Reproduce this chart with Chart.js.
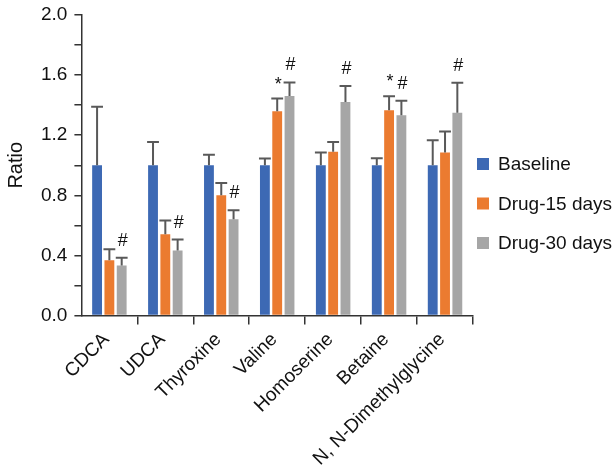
<!DOCTYPE html>
<html>
<head>
<meta charset="utf-8">
<script src="https://cdn.jsdelivr.net/npm/chart.js@4"></script>
<style>
  html, body { margin: 0; padding: 0; background: #fff; }
  #wrap { width: 616px; height: 475px; }
</style>
</head>
<body>
<div id="wrap"><canvas id="ratioChart"></canvas></div>
<script>
// data
const categories = ['CDCA', 'UDCA', 'Thyroxine', 'Valine', 'Homoserine', 'Betaine', 'N, N-Dimethylglycine'];
const seriesNames = ['Baseline', 'Drug-15 days', 'Drug-30 days'];
const baseline = [1.0, 1.0, 1.0, 1.0, 1.0, 1.0, 1.0];
const drug15 = [0.367, 0.54, 0.80, 1.36, 1.09, 1.367, 1.085];
const drug30 = [0.333, 0.433, 0.64, 1.462, 1.422, 1.333, 1.35];
// upper end of the error bars
const baselineErr = [1.39, 1.155, 1.07, 1.045, 1.085, 1.047, 1.167];
const drug15Err = [0.44, 0.633, 0.882, 1.444, 1.155, 1.46, 1.224];
const drug30Err = [0.385, 0.505, 0.70, 1.551, 1.527, 1.429, 1.549];
// significance marks
const drug15Marks = ['', '', '', '*', '', '*', ''];
const drug30Marks = ['#', '#', '#', '#', '#', '#', '#'];
const yTicks = [0, 0.4, 0.8, 1.2, 1.6, 2.0];

const colors = ['#3d69b4', '#eb7b30', '#a6a6a6'];
const fontFam = '"Liberation Sans", Arial, sans-serif';

// error bars + marks
const errorBars = {
    id: 'errorBars',
    afterDatasetsDraw(chart) {
        const ctx = chart.ctx;
        const y = chart.scales.y;
        ctx.save();
        chart.data.datasets.forEach((ds, i) => {
            const meta = chart.getDatasetMeta(i);
            meta.data.forEach((bar, j) => {
                const top = y.getPixelForValue(ds.errTop[j]);
                const half = bar.width / 2 + 1;
                ctx.strokeStyle = '#595959';
                ctx.lineWidth = 2;
                ctx.beginPath();
                ctx.moveTo(bar.x, bar.y);
                ctx.lineTo(bar.x, top);
                ctx.moveTo(bar.x - half, top);
                ctx.lineTo(bar.x + half, top);
                ctx.stroke();
                const mark = ds.marks ? ds.marks[j] : '';
                if (mark) {
                    ctx.fillStyle = '#111';
                    ctx.font = '18px ' + fontFam;
                    ctx.textAlign = 'center';
                    ctx.textBaseline = 'middle';
                    ctx.fillText(mark, bar.x + 1, top - (mark === '*' ? 14 : 17));
                }
            });
        });
        ctx.restore();
    }
};

// legend at the right
const sideLegend = {
    id: 'sideLegend',
    afterDraw(chart) {
        const ctx = chart.ctx;
        const x0 = chart.chartArea.right + 4;
        ctx.save();
        ctx.font = '19px ' + fontFam;
        ctx.textBaseline = 'middle';
        ctx.textAlign = 'left';
        chart.data.datasets.forEach((ds, i) => {
            const yc = 164 + i * 39.5;
            ctx.fillStyle = ds.backgroundColor;
            ctx.fillRect(x0, yc - 6, 12, 12);
            ctx.fillStyle = '#111';
            ctx.fillText(ds.label, x0 + 21, yc + 1);
        });
        ctx.restore();
    }
};

const ctx = document.getElementById('ratioChart').getContext('2d');
new Chart(ctx, {
    type: 'bar',
    data: {
        labels: categories,
        datasets: [
            { label: seriesNames[0], data: baseline, errTop: baselineErr, backgroundColor: colors[0] },
            { label: seriesNames[1], data: drug15, errTop: drug15Err, marks: drug15Marks, backgroundColor: colors[1] },
            { label: seriesNames[2], data: drug30, errTop: drug30Err, marks: drug30Marks, backgroundColor: colors[2] }
        ]
    },
    options: {
        responsive: true,
        maintainAspectRatio: false,
        animation: false,
        datasets: { bar: { categoryPercentage: 0.66, barPercentage: 0.8 } },
        layout: { padding: { top: 0, right: 143, left: 4, bottom: 1 } },
        plugins: {
            legend: { display: false },
            tooltip: { enabled: false }
        },
        scales: {
            x: {
                grid: {
                    drawOnChartArea: false,
                    tickLength: 9,
                    color: (c) => c.index === 0 ? 'rgba(0,0,0,0)' : '#333',
                    lineWidth: 1.5
                },
                border: { color: '#333', width: 1.5 },
                ticks: {
                    color: '#111',
                    font: { family: fontFam, size: 19 },
                    maxRotation: 45,
                    minRotation: 45,
                    padding: 4,
                    labelOffset: -3
                }
            },
            y: {
                min: 0,
                max: 2.0,
                grid: { drawOnChartArea: false, tickLength: 7, color: '#333', lineWidth: 1.5 },
                border: { color: '#333', width: 1.5 },
                ticks: {
                    stepSize: 0.2,
                    color: '#111',
                    font: { family: fontFam, size: 19, lineHeight: 0.85 },
                    padding: 7,
                    callback: function(v) {
                        const hit = yTicks.find(t => Math.abs(t - v) < 1e-6);
                        return hit === undefined ? '' : hit.toFixed(1);
                    }
                },
                title: {
                    display: true,
                    text: 'Ratio',
                    color: '#111',
                    font: { family: fontFam, size: 20 },
                    padding: { top: 0, bottom: 6 }
                }
            }
        }
    },
    plugins: [errorBars, sideLegend]
});
</script>
</body>
</html>
